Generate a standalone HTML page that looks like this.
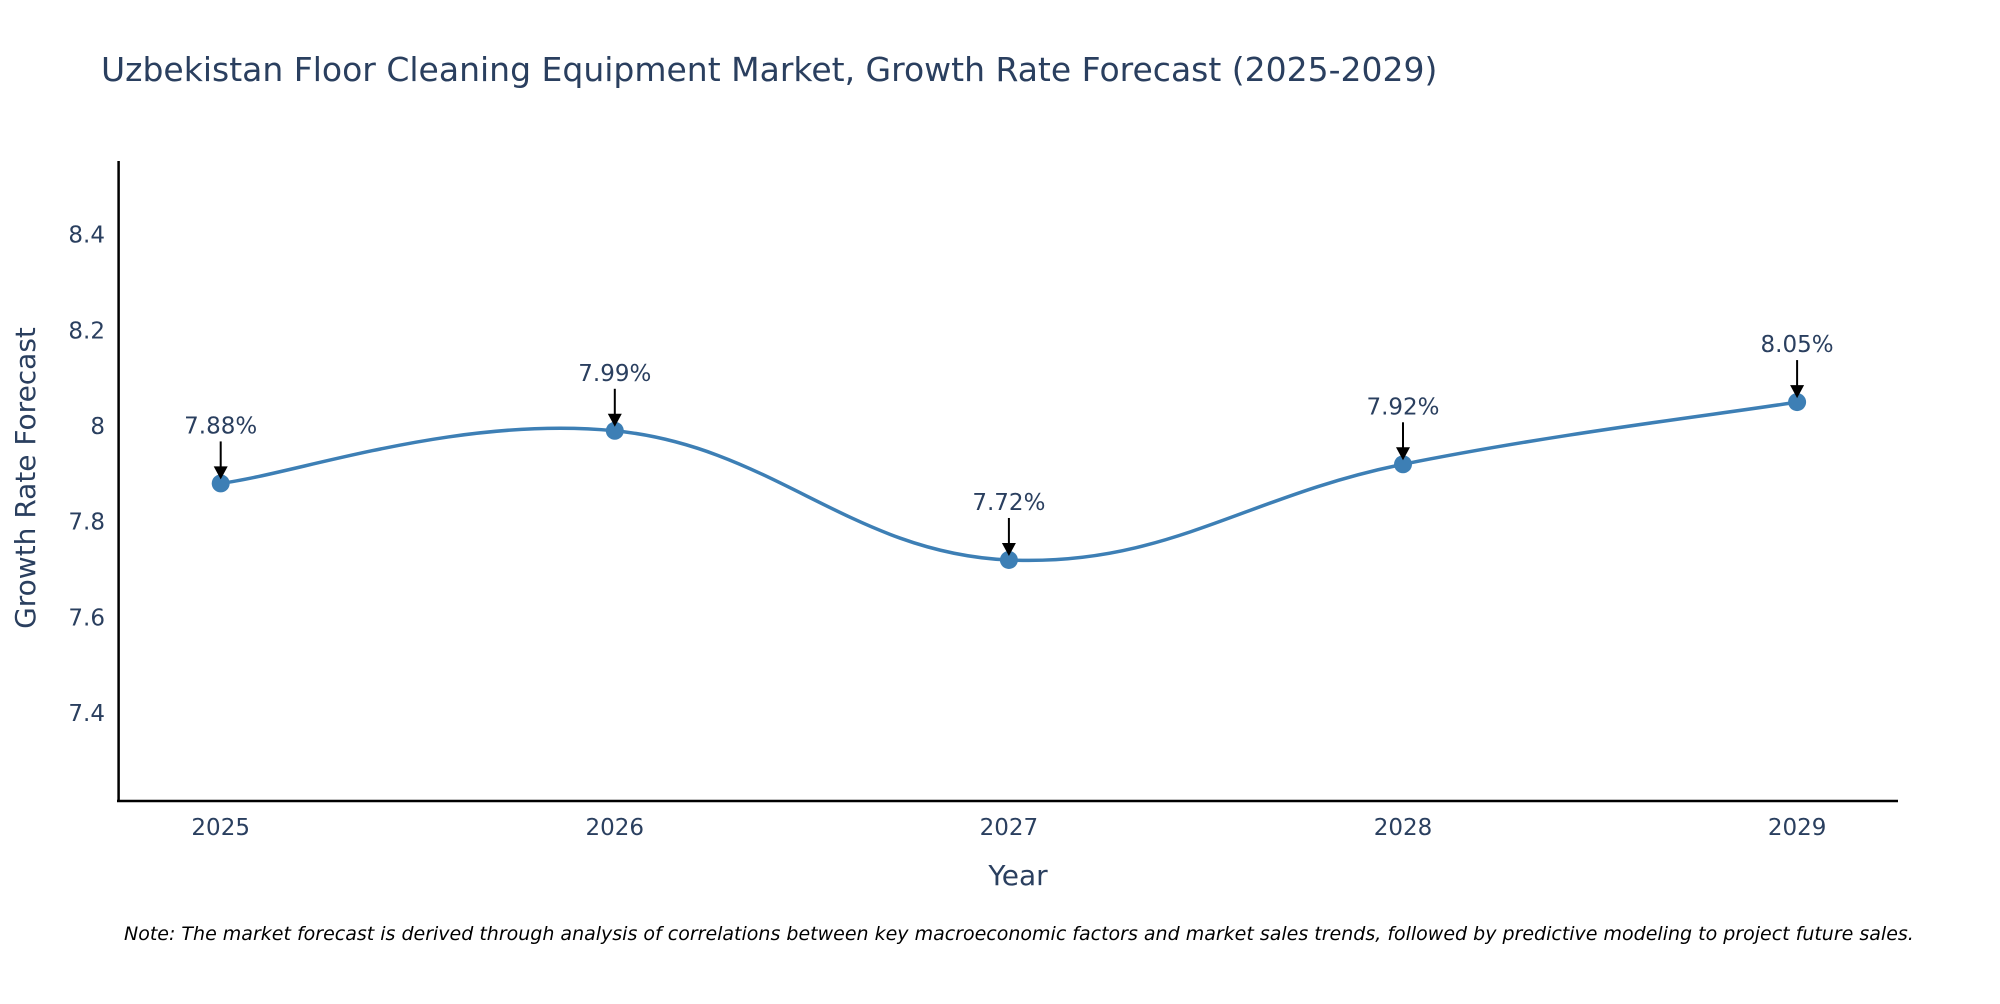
<!DOCTYPE html>
<html><head><meta charset="utf-8"><style>
body{margin:0;background:#fff;width:2000px;height:1000px;overflow:hidden;font-family:"DejaVu Sans","Liberation Sans",sans-serif}
svg text{font-family:"DejaVu Sans","Liberation Sans",sans-serif}
</style></head><body>
<svg width="2000" height="1000" xmlns="http://www.w3.org/2000/svg" id="svg">
<text x="101" y="81" font-size="33" fill="#2a3f5f">Uzbekistan Floor Cleaning Equipment Market, Growth Rate Forecast (2025-2029)</text>
<g id="yticks"></g><g id="xticks"></g>
<line x1="118.6" y1="161" x2="118.6" y2="802" stroke="#000" stroke-width="2.5"/>
<line x1="117" y1="801" x2="1898" y2="801" stroke="#000" stroke-width="2.5"/>
<path id="line" fill="none" stroke="#3d7fb5" stroke-width="3.5"/>
<g id="pts"></g>
<text x="1018" y="885" font-size="28" fill="#2a3f5f" text-anchor="middle">Year</text>
<text transform="translate(35,478) rotate(-90)" font-size="28" fill="#2a3f5f" text-anchor="middle">Growth Rate Forecast</text>
<text x="124" y="940" font-size="19" font-style="italic" fill="#000">Note: The market forecast is derived through analysis of correlations between key macroeconomic factors and market sales trends, followed by predictive modeling to project future sales.</text>
</svg>
<script>
const years=[2025,2026,2027,2028,2029];
const values=[7.88,7.99,7.72,7.92,8.05];
const yTickVals=[7.4,7.6,7.8,8,8.2,8.4];
const yTickLabels=["7.4","7.6","7.8","8","8.2","8.4"];
const NS="http://www.w3.org/2000/svg";
const X=v=>220.7+(v-2025)*394.1;
const Y=v=>426-(v-8)*478.5;
function mk(t,a,p){const e=document.createElementNS(NS,t);for(const k in a)e.setAttribute(k,a[k]);p.appendChild(e);return e;}
const yt=document.getElementById('yticks');
yTickVals.forEach((v,i)=>{const t=mk('text',{x:105,y:Y(v)+8,'font-size':23,fill:'#2a3f5f','text-anchor':'end'},yt);t.textContent=yTickLabels[i];

});
const xt=document.getElementById('xticks');
years.forEach(v=>{const t=mk('text',{x:X(v),y:835,'font-size':23,fill:'#2a3f5f','text-anchor':'middle'},xt);t.textContent=v;

});
const P=years.map((y,i)=>[X(y),Y(values[i])]);
let d=`M${P[0][0]},${P[0][1]}`;const k=0.2;
for(let i=0;i<P.length-1;i++){const p0=P[Math.max(0,i-1)],p1=P[i],p2=P[i+1],p3=P[Math.min(P.length-1,i+2)];
d+=` C${p1[0]+(p2[0]-p0[0])*k},${p1[1]+(p2[1]-p0[1])*k} ${p2[0]-(p3[0]-p1[0])*k},${p2[1]-(p3[1]-p1[1])*k} ${p2[0]},${p2[1]}`;}
document.getElementById('line').setAttribute('d',d);
const g=document.getElementById('pts');
P.forEach((p,i)=>{
const c=mk('circle',{cx:p[0],cy:p[1],r:9,fill:'#3d7fb5'},g);


const l=mk('line',{x1:p[0],y1:p[1]-42,x2:p[0],y2:p[1]-14,stroke:'#000','stroke-width':2},g);


const a=mk('polygon',{points:`${p[0]-7},${p[1]-17} ${p[0]+7},${p[1]-17} ${p[0]},${p[1]-4}`,fill:'#000'},g);


const t=mk('text',{x:p[0],y:p[1]-50,'font-size':23,fill:'#2a3f5f','text-anchor':'middle'},g);
t.textContent=values[i].toFixed(2)+'%';

});
</script>
</body></html>
